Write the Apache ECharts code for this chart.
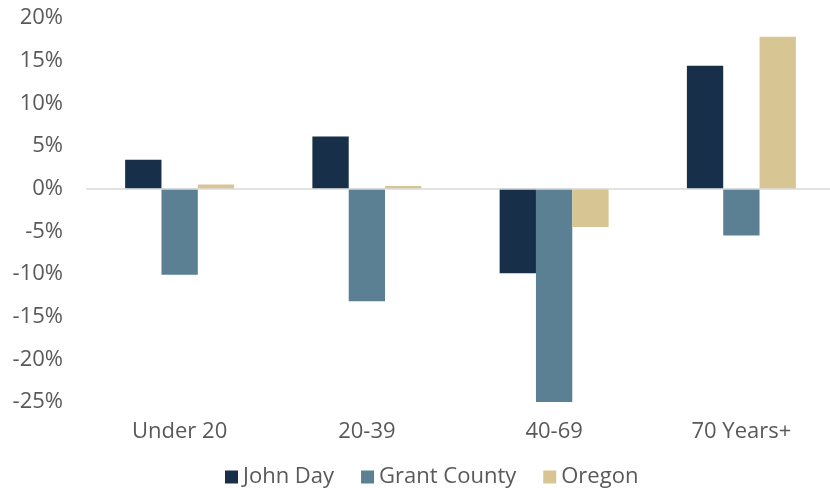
<!DOCTYPE html>
<html>
<head>
<meta charset="utf-8">
<script src="https://cdn.jsdelivr.net/npm/echarts@6/dist/echarts.min.js"></script>
<style>
  html, body { margin: 0; padding: 0; background: #fff; }
  #chart { width: 830px; height: 488px; }
</style>
</head>
<body>
<div id="chart"></div>
<script>
const categories = ['Under 20', '20-39', '40-69', '70 Years+']
const johnDay = [3.4, 6.1, -9.9, 14.4]
const grantCounty = [-10.1, -13.2, -25.1, -5.5]
const oregon = [0.5, 0.3, -4.5, 17.8]
const seriesNames = ['John Day', 'Grant County', 'Oregon']
const colors = ['#172f48', '#5b7f93', '#d8c594']

const font = "'Open Sans', 'Liberation Sans', sans-serif"
const textColor = '#595959'

const chart = echarts.init(document.getElementById('chart'))

const bar = (name, data, color) => ({
  name,
  type: 'bar',
  data,
  barWidth: '19.4%',
  barGap: '0%',
  itemStyle: { color }
})

const series = [
  bar(seriesNames[0], johnDay, colors[0]),
  bar(seriesNames[1], grantCounty, colors[1]),
  bar(seriesNames[2], oregon, colors[2])
]
// zero line
series[0].markLine = {
  silent: true,
  symbol: 'none',
  label: { show: false },
  lineStyle: { color: '#d9d9d9', width: 1.5, type: 'solid' },
  data: [{ yAxis: 0 }]
}

chart.setOption({
  animation: false,
  backgroundColor: '#fff',
  textStyle: { fontFamily: font },
  grid: { left: 86, width: 749, top: 18, bottom: 86, outerBoundsMode: 'none', containLabel: false },
  legend: {
    data: seriesNames,
    left: 220,
    top: 461,
    icon: 'rect',
    itemWidth: 13,
    itemHeight: 13,
    itemGap: 27,
    textStyle: { color: textColor, fontSize: 22, fontFamily: font }
  },
  xAxis: {
    type: 'category',
    data: categories,
    axisLine: { show: false },
    axisTick: { show: false },
    axisLabel: { color: textColor, fontSize: 22, margin: 19, fontFamily: font }
  },
  yAxis: {
    type: 'value',
    min: -25,
    max: 20,
    interval: 5,
    splitLine: { show: false },
    axisLine: { show: false },
    axisTick: { show: false },
    axisLabel: { color: textColor, fontSize: 22, margin: 23, fontFamily: font, formatter: '{value}%' }
  },
  series
})
</script>
</body>
</html>
